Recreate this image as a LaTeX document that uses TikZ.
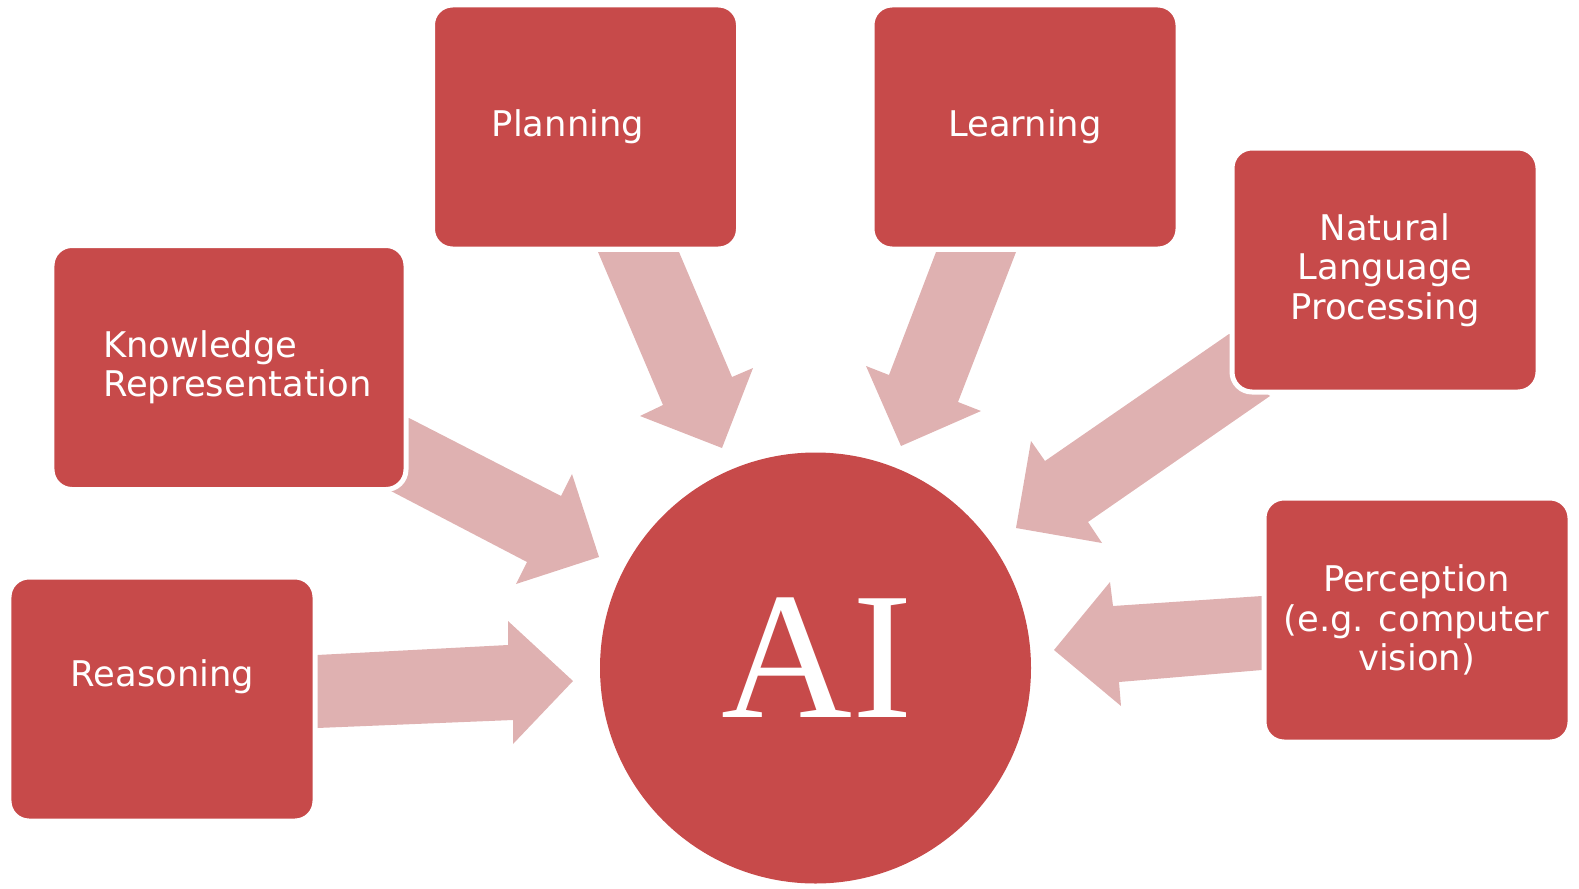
\documentclass[tikz,border=0pt]{standalone}
\usepackage{fontspec}
\setmainfont{DejaVu Sans}
\newfontfamily\aifont{Liberation Serif}
\definecolor{boxred}{HTML}{C74A4A}
\definecolor{arrowpink}{HTML}{DFB1B1}
\begin{document}
\begin{tikzpicture}[x=1bp,y=-1bp,
  topic/.style={fill=boxred,draw=white,line width=5bp,rounded corners=20bp,minimum width=306bp,minimum height=244bp},
  label/.style={text=white,font=\fontsize{35.5}{39.5}\selectfont,align=center,inner sep=0pt},
  blockarrow/.style={fill=arrowpink,draw=none}]
\useasboundingbox (0,0) rectangle (1579,888);
% arrows
\fill[blockarrow] (317,655) -- (508,645) -- (508,621) -- (573,681) -- (513,744) -- (513,720) -- (317,728) -- cycle;
\fill[blockarrow] (409,418) -- (561,496) -- (572,474) -- (599,557) -- (516,584) -- (527,562) -- (389,490) -- (370,480) -- (370,418) -- cycle;
\fill[blockarrow] (598,252) -- (679,252) -- (732,377) -- (753,368) -- (722,448) -- (640,416) -- (663,405) -- cycle;
\fill[blockarrow] (936,252) -- (1016,252) -- (958,402) -- (981,411) -- (901,446) -- (866,366) -- (889,375) -- cycle;
\fill[blockarrow] (1229,334) -- (1045,461) -- (1031,441) -- (1016,528) -- (1102,543) -- (1088,522) -- (1270,396) -- (1250,380) -- (1250,334) -- cycle;
\fill[blockarrow] (1262,596) -- (1113,606) -- (1110,582) -- (1054,650) -- (1121,706) -- (1119,682) -- (1262,670) -- cycle;
% boxes
\node[topic] (plan) at (585.5,127) {};
\node[label] (plantxt) at (568,127) {Planning};
\node[topic] (learn) at (1025,127) {};
\node[label] (learntxt) at (1025,127) {Learning};
\node[topic,minimum width=354bp] (know) at (229,367.5) {};
\node[label,anchor=west,align=left] (knowtxt) at (103,367) {Knowledge\\Representation};
\node[topic] (nlp) at (1385,270) {};
\node[label] (nlptxt) at (1385,270) {Natural\\Language\\Processing};
\node[topic] (reas) at (162,699) {};
\node[label] (reastxt) at (162.5,677) {Reasoning};
\node[topic] (perc) at (1417,620) {};
\node[label] (perctxt) at (1416.5,620) {Perception\\(e.g. computer\\vision)};
% circle
\node[circle,fill=boxred,minimum size=431bp,inner sep=0pt] (ai) at (815.5,668) {};
\node[text=white,font=\aifont\fontsize{182}{182}\selectfont,inner sep=0pt] (aitxt) at (817,658) {AI};
\end{tikzpicture}
\end{document}
